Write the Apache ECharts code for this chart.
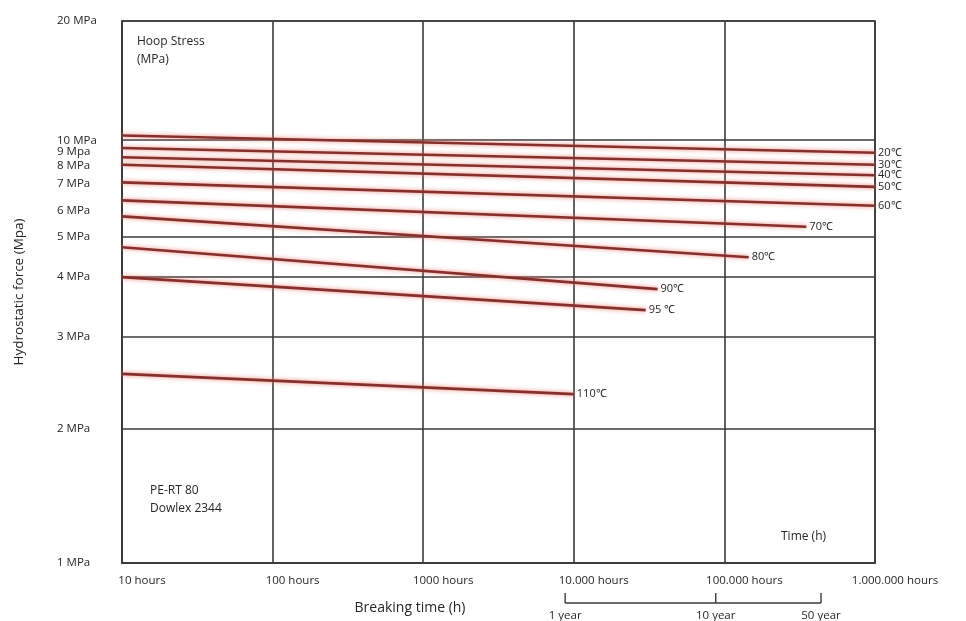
<!DOCTYPE html>
<html>
<head>
<meta charset="utf-8">
<script src="https://cdn.jsdelivr.net/npm/echarts@6/dist/echarts.min.js"></script>
<style>
  html, body { margin: 0; padding: 0; background: #ffffff; }
  #chart { width: 966px; height: 621px; }
</style>
</head>
<body>
<div id="chart"></div>
<script>
// ---------------- data ----------------
const temperatures = ['20℃', '30℃', '40℃', '50℃', '60℃', '70℃', '80℃', '90℃', '95 ℃', '110℃'];
const startHours   = [10, 10, 10, 10, 10, 10, 10, 10, 10, 10];
const startStress  = [10.4, 9.3, 8.6, 8.1, 7.1, 6.4, 5.8, 4.75, 4.0, 2.6];
const endHours     = [1000000, 1000000, 1000000, 1000000, 1000000, 350000, 145000, 36000, 30000, 10000];
const endStress    = [8.9, 8.1, 7.5, 6.9, 6.2, 5.4, 4.5, 3.8, 3.45, 2.38];

const stressTickValues = [1, 2, 3, 4, 5, 6, 7, 8, 9, 10, 20];
const stressTickLabels = ['1 MPa', '2 MPa', '3 MPa', '4 MPa', '5 MPa', '6 MPa', '7 MPa', '8 MPa', '9 Mpa', '10 MPa', '20 MPa'];
const stressGridValues = [1, 2, 3, 4, 5, 10, 20];

const hourTickValues = [10, 100, 1000, 10000, 100000, 1000000];
const hourTickLabels = ['10 hours', '100 hours', '1000 hours', '10.000 hours', '100.000 hours', '1.000.000 hours'];

const serviceYears      = [1, 10, 50];
const serviceYearLabels = ['1 year', '10 year', '50 year'];
const HOURS_PER_YEAR = 8760;

// ---------------- axis calibration ----------------
// The reference's stress axis is hand drawn (not a true log scale): relative
// height of each stress tick inside the plot, used to build the axis scale.
const STRESS_AXIS_HEIGHTS = [0, 0.2471, 0.4167, 0.5274, 0.6011, 0.6491, 0.6989, 0.7321, 0.7597, 0.7800, 1];
const AXIS_SPAN = 1000;
function stressToAxis(v) {
  const t = stressTickValues;
  let i = 0;
  while (i < t.length - 2 && v > t[i + 1]) i++;
  const f = (v - t[i]) / (t[i + 1] - t[i]);
  return AXIS_SPAN * (STRESS_AXIS_HEIGHTS[i] + f * (STRESS_AXIS_HEIGHTS[i + 1] - STRESS_AXIS_HEIGHTS[i]));
}
function axisToLabel(a) {
  for (let i = 0; i < stressTickValues.length; i++) {
    if (Math.abs(stressToAxis(stressTickValues[i]) - a) < 0.5) return stressTickLabels[i];
  }
  return '';
}

const TEXT = '#262626';
const GRID = '#3a3a3a';
const FONT = '"Open Sans", "Liberation Sans", sans-serif';

const chart = echarts.init(document.getElementById('chart'), null, { renderer: 'canvas' });

const series = temperatures.map((t, i) => ({
  type: 'line',
  name: t,
  data: [
    [startHours[i], stressToAxis(startStress[i])],
    [endHours[i], stressToAxis(endStress[i])]
  ],
  symbol: 'none',
  silent: true,
  z: 5,
  lineStyle: {
    color: '#85302a',
    width: 2.6,
    shadowColor: 'rgba(232,118,106,0.95)',
    shadowBlur: 4
  },
  endLabel: {
    show: true,
    formatter: t,
    color: TEXT,
    fontSize: 11,
    fontFamily: FONT,
    distance: 3
  }
}));

chart.setOption({
  animation: false,
  backgroundColor: '#ffffff',
  grid: { left: 122, right: 91, top: 21, bottom: 58, show: true, borderColor: GRID, borderWidth: 1.6 },
  xAxis: {
    type: 'log',
    logBase: 10,
    min: 10,
    max: 1000000,
    axisLine: { show: true, lineStyle: { color: GRID, width: 1.6 } },
    axisTick: { show: false },
    splitLine: { show: true, lineStyle: { color: GRID, width: 1.6 } },
    axisLabel: {
      show: true,
      margin: 12,
      formatter: v => {
        const i = hourTickValues.findIndex(h => Math.abs(Math.log10(h) - Math.log10(v)) < 1e-6);
        return i >= 0 ? '{a|' + hourTickLabels[i] + '}' : '';
      },
      rich: { a: { color: TEXT, fontSize: 11.5, fontFamily: FONT, padding: [0, 0, 0, 40] } }
    }
  },
  yAxis: {
    type: 'value',
    min: 0,
    max: AXIS_SPAN,
    name: 'Hydrostatic force (Mpa)',
    nameLocation: 'middle',
    nameGap: 96,
    nameTextStyle: { color: TEXT, fontSize: 13.5, fontFamily: FONT },
    axisLine: { show: true, lineStyle: { color: GRID, width: 1.6 } },
    axisTick: { show: false, customValues: stressGridValues.map(stressToAxis) },
    splitLine: { show: true, lineStyle: { color: GRID, width: 1.6 } },
    axisLabel: {
      customValues: stressTickValues.map(stressToAxis),
      align: 'left',
      margin: 65,
      color: TEXT,
      fontSize: 11.5,
      fontFamily: FONT,
      formatter: v => axisToLabel(v)
    }
  },
  series: series
});

// ------------- annotations -------------
const gTexts = [
  { type: 'text', left: 137, top: 33, style: { text: 'Hoop Stress\n(MPa)', fill: TEXT, font: '12px ' + FONT, lineHeight: 18 } },
  { type: 'text', left: 150, top: 482, style: { text: 'PE-RT 80\nDowlex 2344', fill: TEXT, font: '12px ' + FONT, lineHeight: 18 } },
  { type: 'text', left: 781, top: 531, style: { text: 'Time (h)', fill: TEXT, font: '12px ' + FONT } },
  { type: 'text', x: 410, y: 608, style: { text: 'Breaking time (h)', fill: TEXT, font: '14px ' + FONT, align: 'center', verticalAlign: 'middle' } }
];

// service-life bracket under the time axis, placed through the x scale
const yearX = serviceYears.map(y => chart.convertToPixel({ xAxisIndex: 0 }, y * HOURS_PER_YEAR));
const bracketY = 603, tickTop = 593;
const bracket = [
  { type: 'line', shape: { x1: yearX[0], y1: bracketY, x2: yearX[yearX.length - 1], y2: bracketY }, style: { stroke: GRID, lineWidth: 1.4 } }
];
yearX.forEach((x, i) => {
  bracket.push({ type: 'line', shape: { x1: x, y1: tickTop, x2: x, y2: bracketY }, style: { stroke: GRID, lineWidth: 1.4 } });
  bracket.push({ type: 'text', x: x, y: 616, style: { text: serviceYearLabels[i], fill: TEXT, font: '11.5px ' + FONT, align: 'center', verticalAlign: 'middle' } });
});

chart.setOption({ graphic: gTexts.concat(bracket) });
</script>
</body>
</html>
